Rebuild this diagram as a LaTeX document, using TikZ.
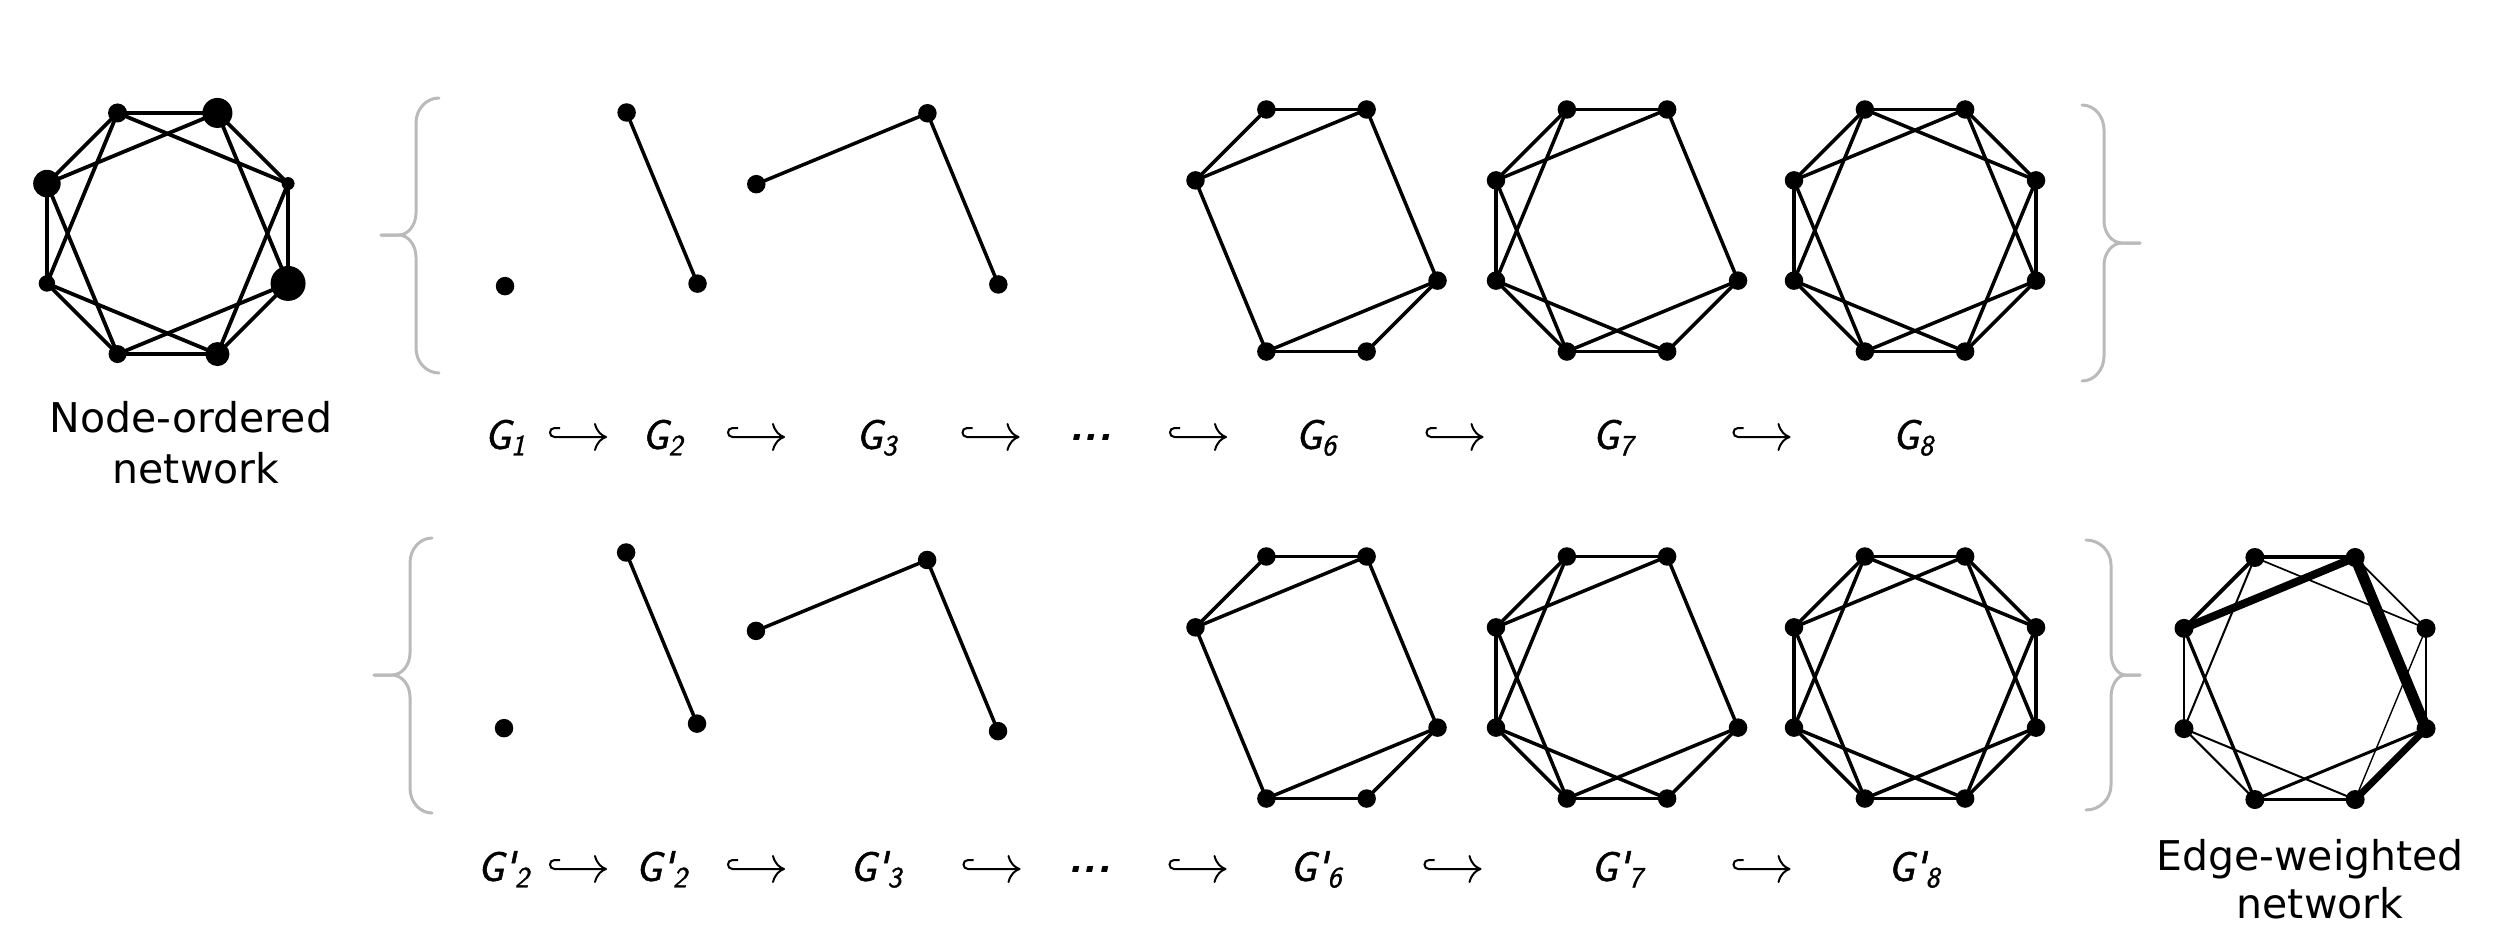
\documentclass[tikz,border=0pt]{standalone}
\usepackage{fix-cm}
\usepackage{amsmath}
\usepackage{fontspec}
\usetikzlibrary{arrows.meta}
\newfontfamily\capfont{DejaVu Sans}
\newfontfamily\labfont{Latin Modern Sans}[FakeBold=1.2]
\def\angA{112.5}\def\angB{67.5}\def\angC{22.5}\def\angD{-22.5}
\def\angE{-67.5}\def\angF{-112.5}\def\angG{-157.5}\def\angH{157.5}
\def\Rad{131pt}
\tikzset{
  vtx/.style={circle,fill=black,draw=none,inner sep=0pt,minimum size=18.5pt},
  lnk/.style={line width=3.5pt},
  nlnk/.style={line width=3.8pt},
  brace/.style={draw=black!27,line width=3pt,line cap=round},
  lab/.style={anchor=base,inner sep=0pt,font=\labfont\itshape\fontsize{42}{48}\selectfont},
  dts/.style={anchor=base,inner sep=0pt,font=\sffamily\bfseries\itshape\fontsize{46}{50}\selectfont},
  captxt/.style={anchor=base,inner sep=0pt,font=\capfont\fontsize{41}{50}\selectfont},
  hookarr/.style={line width=2pt,-{Computer Modern Rightarrow[length=13pt,width=28pt]}},
}
% vertices of an octagon graph: prefix, cx, cy, letters
\newcommand\verts[4]{%
  \begin{scope}[shift={(#2,#3)}]
  \foreach \vv in {#4}{\edef\aa{\csname ang\vv\endcsname}\node[vtx] (#1\vv) at (\aa:\Rad) {};}
  \end{scope}}
\newcommand\links[2]{\edef\lst{#2}\foreach \pa/\pb in \lst {\draw[lnk] (#1\pa.center) -- (#1\pb.center);}}
% brace: x end, x line, x tip, y top, y mid, y bottom
\newcommand\brc[6]{%
  \pgfmathsetmacro\bd{#1-#2}%
  \pgfmathsetmacro\bc{0.5*(#2-#3)}%
  \draw[brace] (#1,#4) .. controls ({#2+0.45*\bd},#4) and (#2,{#4+11}) .. (#2,{#4+25})
     -- (#2,{#5-22}) .. controls (#2,{#5-10}) and ({#2-0.45*\bc},#5) .. ({#2-\bc},#5) -- (#3,#5);
  \draw[brace] (#3,#5) -- ({#2-\bc},#5) .. controls ({#2-0.45*\bc},#5) and (#2,{#5+10}) .. (#2,{#5+22})
     -- (#2,{#6-25}) .. controls (#2,{#6-11}) and ({#2+0.45*\bd},#6) .. (#1,#6);
}
% hook arrow: name, x centre, y axis
\newcommand\hookar[3]{%
  \coordinate (#1s) at ({#2-28.5},#3);
  \coordinate (#1e) at ({#2+28.5},#3);
  \draw[hookarr] ([shift={(10pt,9pt)}]#1s) -- ([shift={(4.5pt,9pt)}]#1s)
     .. controls ([shift={(-1.5pt,9pt)}]#1s) and ([shift={(-1.5pt,0pt)}]#1s) .. ([shift={(4.5pt,0pt)}]#1s)
     -- (#1e);
}
\def\Esix{A/B,A/H,B/H,B/D,D/E,D/F,E/F,F/H}
\def\Eseven{A/B,A/H,B/H,B/D,D/E,D/F,E/F,F/H,A/G,G/H,F/G,E/G}
\def\Eeight{A/B,A/H,B/H,B/D,D/E,D/F,E/F,F/H,A/G,G/H,F/G,E/G,A/C,B/C,C/D,C/E}
\begin{document}
\begin{tikzpicture}[x=1pt,y=-1pt]
\useasboundingbox (0,0) rectangle (2515,935);

% ---------- node-ordered network ----------
\begin{scope}[shift={(167.5,233.5)}]
  \node[vtx,minimum size=19pt] (nA) at (\angA:130.5pt) {};
  \node[vtx,minimum size=30pt] (nB) at (\angB:130.5pt) {};
  \node[vtx,minimum size=13pt] (nC) at (\angC:130.5pt) {};
  \node[vtx,minimum size=35pt] (nD) at (\angD:130.5pt) {};
  \node[vtx,minimum size=24pt] (nE) at (\angE:130.5pt) {};
  \node[vtx,minimum size=18pt] (nF) at (\angF:130.5pt) {};
  \node[vtx,minimum size=16.5pt] (nG) at (\angG:130.5pt) {};
  \node[vtx,minimum size=27.5pt] (nH) at (\angH:130.5pt) {};
\end{scope}
\foreach \pa/\pb in \Eeight {\draw[nlnk] (n\pa.center) -- (n\pb.center);}
\node[captxt] (nocap1) at (191,432) {Node-ordered};
\node[captxt] (nocap2) at (196,483) {network};

% ---------- top row ----------
\brc{439}{416}{381}{98}{235}{373}
\brc{2082}{2104}{2140}{105}{243}{381}
\verts{ta}{384}{236}{D}
\verts{tb}{576.5}{233.5}{B,D}\links{tb}{B/D}
\verts{tc}{877.3}{234.3}{B,D,H}\links{tc}{H/B,B/D}
\verts{td}{1316.5}{230.5}{A,B,D,E,F,H}\links{td}{\Esix}
\verts{te}{1617}{230.5}{A,B,D,E,F,G,H}\links{te}{\Eseven}
\verts{tf}{1915}{230.5}{A,B,C,D,E,F,G,H}\links{tf}{\Eeight}

\node[lab] (tl1) at (505,449) {$\textit{G}_{\textit{1}}$};
\hookar{ta1}{578.5}{437}
\node[lab] (tl2) at (662.5,449) {$\textit{G}_{\textit{2}}$};
\hookar{ta2}{756.5}{437}
\node[lab] (tl3) at (876.5,449) {$\textit{G}_{\textit{3}}$};
\hookar{ta3}{991}{437}
\node[dts] (tdots) at (1091,449) {\raisebox{9pt}{...}};
\hookar{ta4}{1198.5}{437}
\node[lab] (tl6) at (1316,449) {$\textit{G}_{\textit{6}}$};
\hookar{ta5}{1455}{437}
\node[lab] (tl7) at (1613,449) {$\textit{G}_{\textit{7}}$};
\hookar{ta6}{1762}{437}
\node[lab] (tl8) at (1913,449) {$\textit{G}_{\textit{8}}$};

% ---------- bottom row ----------
\brc{432}{410}{374}{538}{675}{813}
\brc{2086}{2111}{2140}{540}{675}{810}
\verts{ba}{383}{678}{D}
\verts{bb}{576}{673.5}{B,D}\links{bb}{B/D}
\verts{bc}{877}{681}{B,D,H}\links{bc}{H/B,B/D}
\verts{bd}{1316.5}{677.5}{A,B,D,E,F,H}\links{bd}{\Esix}
\verts{be}{1617}{677.5}{A,B,D,E,F,G,H}\links{be}{\Eseven}
\verts{bf}{1915}{677.5}{A,B,C,D,E,F,G,H}\links{bf}{\Eeight}

\node[lab] (bl1) at (503.5,881) {$\textit{G\textquotesingle}_{\textit{2}}$};
\hookar{ba1}{578.5}{869}
\node[lab] (bl2) at (661.5,881) {$\textit{G\textquotesingle}_{\textit{2}}$};
\hookar{ba2}{756.5}{869}
\node[lab] (bl3) at (876,881) {$\textit{G\textquotesingle}_{\textit{3}}$};
\hookar{ba3}{992}{869}
\node[dts] (bdots) at (1090,881) {\raisebox{9pt}{...}};
\hookar{ba4}{1198}{869}
\node[lab] (bl6) at (1316,881) {$\textit{G\textquotesingle}_{\textit{6}}$};
\hookar{ba5}{1453}{869}
\node[lab] (bl7) at (1617,881) {$\textit{G\textquotesingle}_{\textit{7}}$};
\hookar{ba6}{1762}{869}
\node[lab] (bl8) at (1914,881) {$\textit{G\textquotesingle}_{\textit{8}}$};

% ---------- edge-weighted network ----------
\begin{scope}[vtx/.append style={minimum size=19pt}]
\verts{w}{2305}{678.5}{A,B,C,D,E,F,G,H}
\end{scope}
\foreach \pa/\pb/\ww in {A/B/4,H/B/8,B/D/11,D/E/7,A/H/4,A/G/2,A/C/1.7,B/C/1.7,C/D/1.6,C/E/1.4,H/G/2.2,H/F/3.3,G/F/2,G/E/2,F/E/3.3,F/D/3}
  {\draw[line width=\ww pt] (w\pa.center) -- (w\pb.center);}
\node[captxt] (ewcap1) at (2310,870) {Edge-weighted};
\node[captxt] (ewcap2) at (2320,918) {network};
\end{tikzpicture}
\end{document}
